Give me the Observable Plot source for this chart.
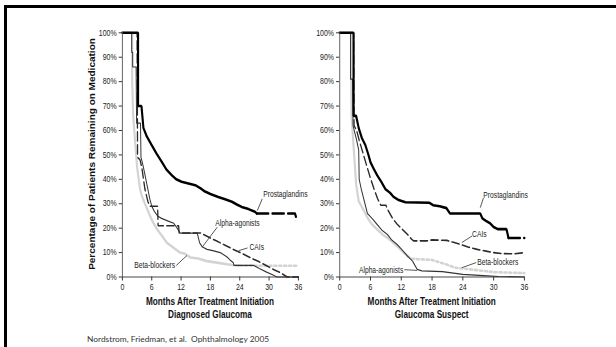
<!DOCTYPE html>
<html>
<head>
<meta charset="utf-8">
<script src="https://cdn.jsdelivr.net/npm/d3@7"></script>
<script src="https://cdn.jsdelivr.net/npm/@observablehq/plot@0.6"></script>
<style>
  html, body { margin: 0; padding: 0; background: #fff; }
  body { width: 616px; height: 347px; position: relative; overflow: hidden;
         font-family: "Liberation Sans", Arial, sans-serif; }
  #frame { position: absolute; left: 4px; top: 5px; width: 700px; height: 400px;
           border-top: 3px solid #000; border-left: 3px solid #000; }
  .panel { position: absolute; top: 0; height: 347px; transform-origin: 0 0; }
  .panel svg { position: absolute; left: 0; overflow: visible; }
  .xt { position: absolute; text-align: center; font-weight: bold; font-size: 10px;
        line-height: 10px; color: #111; white-space: nowrap; }
  .yt { position: absolute; width: 300px; text-align: center; font-weight: bold; font-size: 10px;
        line-height: 10px; color: #111; white-space: nowrap; transform: rotate(-90deg); transform-origin: 50% 50%; }
  #note { position: absolute; left: 87px; top: 334.5px; font-family: Lato, "Open Sans", sans-serif;
          font-size: 8.4px; line-height: 9px; color: #333; white-space: pre; }
</style>
</head>
<body>
<div id="frame"></div>
<div id="note">Nordstrom, Friedman, et al.  Ophthalmology 2005</div>
<script>
// ---------- data (months, % remaining on medication) ----------
const monthTicks = [0, 6, 12, 18, 24, 30, 36];
const pctTicks = [0, 10, 20, 30, 40, 50, 60, 70, 80, 90, 100];

// Diagnosed Glaucoma
const dgProstaglandins = [[0,100],[3.2,100],[3.2,70],[3.9,70],[4.3,61],[5,57.5],[6,54],[7,50.5],[8.1,47],[9,44],[10.1,41.7],[11,40],[12.1,39],[13.5,38.3],[14.9,37.6],[16,36.3],[16.9,35],[18,34],[19.6,32.8],[21,31.8],[22.4,30.8],[23.5,29.6],[24.4,28.7],[25.8,27.8],[27.1,26.7],[27.5,26],[35.3,26],[35.5,24.7]];
const dgCAIs = [[0,100],[3.0,100],[3.1,49],[3.6,48],[4.0,44.5],[4.6,36],[5.2,31],[5.6,29],[7.2,29],[7.3,21],[11.5,21],[11.6,18],[16,18],[17.5,16.5],[19.3,14.7],[21,13],[22.7,11.3],[24.5,9.6],[26.2,7.9],[28,6.2],[29.6,4.5],[31,3],[32.3,1.8],[33.7,0],[36,0]];
const dgAlpha = [[0,100],[1.9,100],[1.9,92],[2.1,92],[2.1,86],[2.8,86],[2.9,63],[3.7,63],[3.8,49],[4.0,47.5],[4.4,44],[4.8,40],[5.2,36],[5.6,32],[6.0,29],[6.5,27],[7.2,25],[8.0,24],[9.5,22.8],[10.5,22],[11.2,20],[11.8,18],[15.3,18],[15.8,14],[16.3,12.4],[17.3,11.3],[18.5,10.8],[20,10],[20.8,9],[21.4,8.2],[22,7],[22.7,5.8],[22.8,4.8],[26.8,4.8],[28,3.5],[29.5,2],[30.8,0.8],[31.6,0],[36,0]];
const dgBeta = [[0,100],[2.0,100],[2.0,80],[2.2,66],[3.0,45],[3.6,36],[4.0,33],[4.6,30],[5.4,26.2],[6.2,22.6],[7.1,19.5],[8.1,16.8],[9.1,14],[10.1,12.5],[11.8,10],[12.8,9.5],[13.9,8],[15.5,7.6],[17.3,6.5],[19,6],[21.4,5.2],[23,4.8],[24,4.6],[36,4.6]];

// Glaucoma Suspect
const gsProstaglandins = [[0,100],[2.7,100],[2.7,66],[3.2,66],[3.7,61],[4.3,57],[5.0,54],[5.6,50],[6.0,47],[6.7,44],[7.3,41.7],[8.1,39],[8.9,36],[9.8,34.5],[10.5,32.8],[11.5,31.5],[12.8,30.6],[17.5,30.4],[18.2,29.4],[19.5,29],[20.8,28.2],[21.5,26],[27.4,26],[27.8,24],[28.5,23],[29.3,22],[30,20.5],[30.8,19.6],[32.5,19.6],[32.9,16],[36,16]];
const gsCAIs = [[0,100],[2.7,100],[2.8,62],[3.3,60],[3.8,56],[4.5,51],[5.2,46],[6.0,40.4],[6.7,36],[7.4,32],[8.0,29.4],[9.0,29.4],[9.5,27],[10.3,24],[11.2,21.6],[12.2,19.5],[13.2,17.5],[14.0,15.5],[14.4,14.8],[17,14.8],[18,15.2],[20.9,15],[22,14.3],[23.6,13.3],[25,12.3],[26.8,11.3],[28.5,10.6],[30,10],[31.5,9.6],[34,9.5],[36,10]];
const gsAlpha = [[0,100],[2.1,100],[2.1,81],[2.5,81],[2.6,62],[3.3,56],[3.7,52],[3.8,40],[4.2,36],[4.8,31],[5.4,26],[6.3,24],[7.3,21.5],[8.3,19],[9.3,17.4],[10.2,15],[11.2,13.3],[12.2,11],[13.2,8.6],[14.2,6.5],[15.1,3.1],[16,2.5],[20,2.2],[24,1.1],[28,0.6],[31,0.2],[36,0]];
const gsBeta = [[0,100],[2.2,100],[2.3,66],[3.2,38],[3.7,31],[4.5,28],[5.4,24.3],[6.3,21.5],[7.3,19.5],[8.3,17.5],[9.3,16],[10.2,14.5],[11.2,12.6],[12.2,10.5],[13.2,8.6],[14,7.5],[15.1,7.3],[18,7],[19.5,6],[21,5],[22.5,3.8],[24,3.5],[26,3],[28,2.5],[30,2],[33,1.8],[36,1.6]];

// Curve labels: text anchor point and leader line (data units)
const dgLabels = [
  {text: "Prostaglandins", x: 28.8, y: 33.7, anchor: "start", x1: 28.6, y1: 32.0, x2: 27.6, y2: 27.2},
  {text: "Alpha-agonists", x: 19.0, y: 21.9, anchor: "start", x1: 19.4, y1: 20.4, x2: 16.3, y2: 12.2},
  {text: "CAIs", x: 26.0, y: 12.2, anchor: "start", x1: 25.6, y1: 11.9, x2: 23.8, y2: 10.8},
  {text: "Beta-blockers", x: 10.8, y: 4.7, anchor: "end", x1: 11.0, y1: 4.7, x2: 13.2, y2: 8.8}
];
const gsLabels = [
  {text: "Prostaglandins", x: 28.0, y: 33.5, anchor: "start", x1: 28.0, y1: 32.3, x2: 27.4, y2: 28.4},
  {text: "CAIs", x: 25.8, y: 17.5, anchor: "start", x1: 25.8, y1: 16.8, x2: 23.8, y2: 14.1},
  {text: "Beta-blockers", x: 26.8, y: 6.1, anchor: "start", x1: 26.6, y1: 5.9, x2: 23.8, y2: 3.8},
  {text: "Alpha-agonists", x: 12.4, y: 2.7, anchor: "end", x1: 12.6, y1: 3.0, x2: 15.1, y2: 2.7}
];

// ---------- drawing ----------
const S = 0.82;          // the slide image is horizontally condensed
const W = 310;           // unscaled panel width
const TOP = 20, H = 300, Y100 = 32.3, Y0 = 276.5;

const styles = {
  beta:  {stroke: "#d3d3d3", strokeWidth: 2.6, tailDash: "3,3"},
  alpha: {stroke: "#333", strokeWidth: 1.2},
  cai:   {stroke: "#2a2a2a", strokeWidth: 1.6, strokeDasharray: "9,4"},
  prost: {stroke: "#000", strokeWidth: 2.6, tailDash: "14,5"}
};

function seriesMarks(points, st, tailFrom) {
  const marks = [];
  const head = tailFrom == null ? points : points.filter(d => d[0] <= tailFrom);
  marks.push(Plot.line(head, {x: d => d[0], y: d => d[1], stroke: st.stroke, strokeWidth: st.strokeWidth,
    strokeDasharray: st.strokeDasharray, strokeLinejoin: "miter"}));
  if (tailFrom != null) {
    const tail = points.filter(d => d[0] >= tailFrom);
    marks.push(Plot.line(tail, {x: d => d[0], y: d => d[1], stroke: st.stroke, strokeWidth: st.strokeWidth,
      strokeDasharray: st.tailDash}));
  }
  return marks;
}

function drawPanel(cfg) {
  const wrap = document.createElement("div");
  wrap.className = "panel";
  wrap.style.left = cfg.left + "px";
  wrap.style.width = W + "px";
  wrap.style.transform = `scaleX(${S})`;
  const ml = (cfg.x0 - cfg.left) / S;
  const mr = W - (cfg.x36 - cfg.left) / S;
  const startLabels = cfg.labels.filter(d => d.anchor === "start");
  const endLabels = cfg.labels.filter(d => d.anchor === "end");

  const chart = Plot.plot({
    width: W, height: H,
    marginLeft: ml, marginRight: mr, marginTop: Y100 - TOP, marginBottom: H - (Y0 - TOP),
    style: {fontFamily: '"Liberation Sans", Arial, sans-serif', fontSize: "8.5px", color: "#222",
            background: "transparent", overflow: "visible"},
    x: {domain: [0, 36], ticks: monthTicks, tickSize: 4, tickPadding: 3, label: null},
    y: {domain: [0, 100], ticks: pctTicks, tickFormat: d => d + "%", tickSize: 4, tickPadding: 3, label: null},
    marks: [
      ...seriesMarks(cfg.beta, styles.beta, cfg.betaTail),
      ...seriesMarks(cfg.alpha, styles.alpha),
      ...seriesMarks(cfg.cai, styles.cai),
      ...seriesMarks(cfg.prost, styles.prost, cfg.prostTail),
      Plot.ruleX([0], {stroke: "#555", strokeWidth: 1}),
      Plot.ruleY([0], {stroke: "#333", strokeWidth: 1}),
      Plot.link(cfg.labels, {x1: "x1", y1: "y1", x2: "x2", y2: "y2", stroke: "#333", strokeWidth: 0.9}),
      Plot.text(startLabels, {x: "x", y: "y", text: "text", textAnchor: "start", fontSize: 8.2, fill: "#222"}),
      Plot.text(endLabels, {x: "x", y: "y", text: "text", textAnchor: "end", fontSize: 8.2, fill: "#222"})
    ]
  });
  chart.style.top = TOP + "px";
  wrap.append(chart);

  const t1 = document.createElement("div");
  t1.className = "xt";
  t1.style.left = ml - 40 + "px"; t1.style.width = (W - ml - mr + 80) + "px";
  t1.style.top = "296.5px";
  t1.textContent = "Months After Treatment Initiation";
  wrap.append(t1);
  const t2 = document.createElement("div");
  t2.className = "xt";
  t2.style.left = ml - 40 + "px"; t2.style.width = (W - ml - mr + 80) + "px";
  t2.style.top = "310px";
  t2.textContent = cfg.subtitle;
  wrap.append(t2);

  if (cfg.yTitle) {
    const yt = document.createElement("div");
    yt.className = "yt";
    yt.style.left = ((cfg.yTitleX - cfg.left) / S - 150) + "px";
    yt.style.top = ((Y100 + Y0) / 2 - 5) + "px";
    yt.textContent = cfg.yTitle;
    wrap.append(yt);
  }
  document.body.append(wrap);
}

drawPanel({left: 56, x0: 122, x36: 298, subtitle: "Diagnosed Glaucoma",
  yTitle: "Percentage of Patients Remaining on Medication", yTitleX: 92,
  prost: dgProstaglandins, prostTail: 27.5, cai: dgCAIs, alpha: dgAlpha, beta: dgBeta, betaTail: 24,
  labels: dgLabels});
drawPanel({left: 276, x0: 339.3, x36: 524, subtitle: "Glaucoma Suspect",
  prost: gsProstaglandins, prostTail: 32.9, cai: gsCAIs, alpha: gsAlpha, beta: gsBeta, betaTail: 13.2,
  labels: gsLabels});
</script>
</body>
</html>
